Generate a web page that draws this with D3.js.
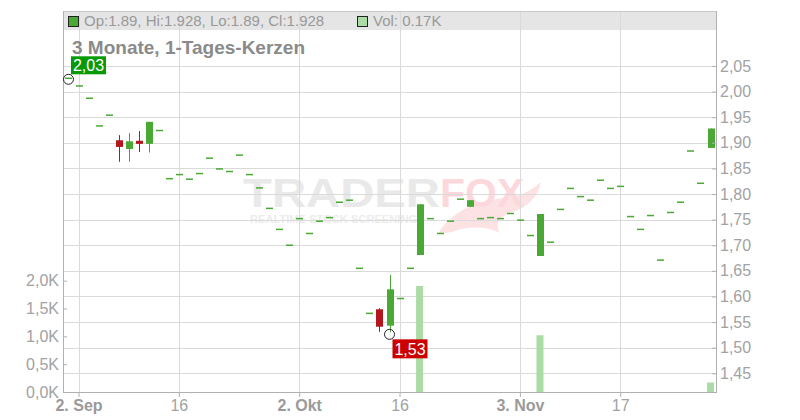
<!DOCTYPE html>
<html><head><meta charset="utf-8">
<script src="https://cdn.jsdelivr.net/npm/d3@7"></script>
<style>
html,body{margin:0;padding:0;background:#fff;}
svg{display:block;font-family:"Liberation Sans",Arial,sans-serif;}
</style></head>
<body><svg id="c" width="800" height="420"></svg>
<script>
const dates = ["2025-09-01","2025-09-02","2025-09-03","2025-09-04","2025-09-05",
"2025-09-08","2025-09-09","2025-09-10","2025-09-11","2025-09-12",
"2025-09-15","2025-09-16","2025-09-17","2025-09-18","2025-09-19",
"2025-09-22","2025-09-23","2025-09-24","2025-09-25","2025-09-26",
"2025-09-29","2025-09-30","2025-10-01","2025-10-02","2025-10-03",
"2025-10-06","2025-10-07","2025-10-08","2025-10-09","2025-10-10",
"2025-10-13","2025-10-14","2025-10-15","2025-10-16","2025-10-17",
"2025-10-20","2025-10-21","2025-10-22","2025-10-23","2025-10-24",
"2025-10-27","2025-10-28","2025-10-29","2025-10-30","2025-10-31",
"2025-11-03","2025-11-04","2025-11-05","2025-11-06","2025-11-07",
"2025-11-10","2025-11-11","2025-11-12","2025-11-13","2025-11-14",
"2025-11-17","2025-11-18","2025-11-19","2025-11-20","2025-11-21",
"2025-11-24","2025-11-25","2025-11-26","2025-11-27","2025-11-28"];

const open  = [2.026,2.011,1.987,1.933,1.954, 1.905,1.888,1.904,1.898,1.924,
1.830,1.838,1.829,1.840,1.870, 1.849,1.844,1.876,1.838,1.812,
1.772,1.731,1.700,1.752,1.723, 1.747,1.754,1.784,1.788,1.655,
1.567,1.575,1.543,1.596,1.655, 1.681,1.752,1.723,1.747,1.790,
1.775,1.752,1.754,1.752,1.762, 1.749,1.719,1.679,1.706,1.770,
1.811,1.795,1.788,1.827,1.811, 1.815,1.756,1.731,1.758,1.671,
1.764,1.784,1.884,1.821,1.890];
const high  = [2.026,2.011,1.987,1.933,1.954, 1.915,1.919,1.923,1.941,1.924,
1.830,1.838,1.829,1.840,1.870, 1.849,1.844,1.876,1.838,1.812,
1.772,1.731,1.700,1.752,1.723, 1.747,1.754,1.784,1.788,1.655,
1.567,1.577,1.642,1.596,1.655, 1.780,1.752,1.723,1.747,1.790,
1.788,1.752,1.754,1.752,1.762, 1.749,1.719,1.761,1.706,1.770,
1.811,1.795,1.788,1.827,1.811, 1.815,1.756,1.731,1.758,1.671,
1.764,1.784,1.884,1.821,1.928];
const low   = [2.026,2.011,1.987,1.933,1.954, 1.863,1.863,1.882,1.881,1.924,
1.830,1.838,1.829,1.840,1.870, 1.849,1.844,1.876,1.838,1.812,
1.772,1.731,1.700,1.752,1.723, 1.747,1.754,1.784,1.788,1.655,
1.567,1.531,1.530,1.596,1.655, 1.681,1.752,1.723,1.747,1.790,
1.775,1.752,1.754,1.752,1.762, 1.749,1.719,1.679,1.706,1.770,
1.811,1.795,1.788,1.827,1.811, 1.815,1.756,1.731,1.758,1.671,
1.764,1.784,1.884,1.821,1.890];
const close = [2.026,2.011,1.987,1.933,1.954, 1.892,1.903,1.898,1.941,1.924,
1.830,1.838,1.829,1.840,1.870, 1.849,1.844,1.876,1.838,1.812,
1.772,1.731,1.700,1.752,1.723, 1.747,1.754,1.784,1.788,1.655,
1.567,1.541,1.614,1.596,1.655, 1.780,1.752,1.723,1.747,1.790,
1.788,1.752,1.754,1.752,1.762, 1.749,1.719,1.761,1.706,1.770,
1.811,1.795,1.788,1.827,1.811, 1.815,1.756,1.731,1.758,1.671,
1.764,1.784,1.884,1.821,1.928];
// volume in thousands
const volume = [0,0,0,0,0, 0,0,0,0,0, 0,0,0,0,0, 0,0,0,0,0,
0,0,0,0,0, 0,0,0,0,0, 0,0,0,0,0, 1.905,0,0,0,0,
0,0,0,0,0, 0,0,1.02,0,0, 0,0,0,0,0, 0,0,0,0,0, 0,0,0,0,0.17];

const priceTicks = [1.45,1.50,1.55,1.60,1.65,1.70,1.75,1.80,1.85,1.90,1.95,2.00,2.05];
const volTicks = [0,0.5,1.0,1.5,2.0];
const xTickDates = ["2025-09-02","2025-09-16","2025-10-02","2025-10-16","2025-11-03","2025-11-17"];
const xTickLabels = ["2. Sep","16","2. Okt","16","3. Nov","17"];
const xTickBold = [true,false,true,false,true,false];
const title = "3 Monate, 1-Tages-Kerzen";

const L = 63, R = 716, T = 11, B = 392;
const GREEN = "#4aa934", RED = "#b3161c", VOLC = "#acdca6", GRID = "#dadada", AX = "#b0b0b0", TXT = "#a2a2a2";

const svg = d3.select("#c");
const n = dates.length;
const x = d3.scaleLinear().domain([-0.547, n - 1 + 0.547]).range([L, R]);
const y = d3.scaleLinear().domain([1.45, 2.05]).range([373.3, 66]);
const yv = d3.scaleLinear().domain([0, 2]).range([B, 280.7]);
const fmtP = v => d3.format(".2f")(v).replace(".", ",");
const fmtV = v => d3.format(".1f")(v).replace(".", ",") + "K";

// header band
svg.append("rect").attr("x", L).attr("y", T).attr("width", R - L).attr("height", 19).attr("fill", "#e5e5e5");

// watermark
const wm = svg.append("g");
wm.append("path")
  .attr("d", "M438,234 C450,212 478,200 505,198 C520,197 532,190 541,182 C538,198 526,208 512,212 C500,216 494,224 500,233 C486,226 468,226 452,232 Z")
  .attr("fill", "#fde2e4");
wm.append("text").attr("x", 243).attr("y", 207).attr("font-size", 40).attr("font-weight", "bold")
  .attr("textLength", 197).attr("lengthAdjust", "spacingAndGlyphs").attr("fill", "#e9e9e9").text("TRADER");
wm.append("text").attr("x", 440).attr("y", 207).attr("font-size", 40).attr("font-weight", "bold")
  .attr("textLength", 84).attr("lengthAdjust", "spacingAndGlyphs").attr("fill", "#fcd8dc").text("FOX");
wm.append("text").attr("x", 250).attr("y", 223).attr("font-size", 11).attr("font-weight", "bold")
  .attr("textLength", 167).attr("lengthAdjust", "spacing").attr("fill", "#ececec").text("REALTIME STOCK SCREENING");

// gridlines
const xTickIdx = xTickDates.map(d => dates.indexOf(d));
svg.append("g").selectAll("line").data(priceTicks).join("line")
  .attr("x1", L).attr("x2", R).attr("y1", d => Math.round(y(d)) + 0.5).attr("y2", d => Math.round(y(d)) + 0.5)
  .attr("stroke", GRID);
svg.append("g").selectAll("line").data(xTickIdx).join("line")
  .attr("x1", d => Math.round(x(d)) + 0.5).attr("x2", d => Math.round(x(d)) + 0.5).attr("y1", T).attr("y2", B)
  .attr("stroke", GRID);
svg.append("line").attr("x1", L).attr("x2", R).attr("y1", T + 0.5).attr("y2", T + 0.5).attr("stroke", "#c8c8c8");

// volume bars
const idx = d3.range(n);
svg.append("g").selectAll("rect").data(idx.filter(i => volume[i] > 0)).join("rect")
  .attr("x", i => x(i) - 3.5).attr("width", 7)
  .attr("y", i => yv(volume[i])).attr("height", i => yv(0) - yv(volume[i]))
  .attr("fill", VOLC);

// candles
const cg = svg.append("g");
const col = i => close[i] >= open[i] ? GREEN : RED;
cg.selectAll("line").data(idx.filter(i => high[i] !== low[i])).join("line")
  .attr("x1", i => Math.round(x(i)) + 0.5).attr("x2", i => Math.round(x(i)) + 0.5)
  .attr("y1", i => y(high[i])).attr("y2", i => y(low[i]))
  .attr("stroke", col).attr("stroke-width", 1);
cg.selectAll("rect").data(idx).join("rect")
  .attr("x", i => Math.round(x(i)) - 3).attr("width", 7)
  .attr("y", i => Math.min(y(open[i]), y(close[i])) - (open[i] === close[i] ? 0.75 : 0))
  .attr("height", i => Math.max(Math.abs(y(open[i]) - y(close[i])), 1.5))
  .attr("fill", col);

// axes
const axR = svg.append("g").attr("transform", `translate(${R},0)`)
  .call(d3.axisRight(y).tickValues(priceTicks).tickFormat(fmtP).tickSize(-4).tickPadding(4));
const axLv = svg.append("g").attr("transform", `translate(${L},0)`)
  .call(d3.axisLeft(yv).tickValues(volTicks).tickFormat(fmtV).tickSize(-4).tickPadding(4));
const axB = svg.append("g").attr("transform", `translate(0,${B})`)
  .call(d3.axisBottom(x).tickValues(xTickIdx).tickFormat((d, i) => xTickLabels[i]).tickSize(5).tickPadding(3));
[axR, axLv, axB].forEach(a => {
  a.select(".domain").remove();
  a.selectAll(".tick line").attr("stroke", AX);
  a.selectAll("text").attr("fill", TXT).attr("font-size", 16).attr("font-family", '"Liberation Sans",Arial,sans-serif');
});
axB.selectAll(".tick text").attr("font-weight", (d, i) => xTickBold[i] ? "bold" : "normal")
  .attr("fill", (d, i) => xTickBold[i] ? "#9a9a9a" : TXT);
svg.append("line").attr("x1", L + 0.5).attr("x2", L + 0.5).attr("y1", T).attr("y2", B).attr("stroke", AX);
svg.append("line").attr("x1", R + 0.5).attr("x2", R + 0.5).attr("y1", T).attr("y2", B).attr("stroke", AX);
svg.append("line").attr("x1", L).attr("x2", R + 1).attr("y1", B + 0.5).attr("y2", B + 0.5).attr("stroke", AX);

// header legend
const last = n - 1;
svg.append("rect").attr("x", 68.5).attr("y", 16.5).attr("width", 10).attr("height", 10)
  .attr("fill", GREEN).attr("stroke", "#222");
svg.append("text").attr("x", 84).attr("y", 26).attr("font-size", 15).attr("fill", "#999")
  .text(`Op:${open[last]}, Hi:${high[last]}, Lo:${low[last]}, Cl:${close[last]}`);
svg.append("rect").attr("x", 357.5).attr("y", 16.5).attr("width", 10).attr("height", 10)
  .attr("fill", VOLC).attr("stroke", "#222");
svg.append("text").attr("x", 373).attr("y", 26).attr("font-size", 15).attr("fill", "#999")
  .text(`Vol: ${volume[last]}K`);

// title
svg.append("text").attr("x", 72).attr("y", 54).attr("font-size", 19).attr("font-weight", "bold")
  .attr("fill", "#8a8a8a").text(title);

// high / low markers
const iHi = d3.maxIndex(high), iLo = d3.minIndex(low);
svg.append("circle").attr("cx", x(iHi)).attr("cy", y(high[iHi]) + 1).attr("r", 5)
  .attr("fill", "none").attr("stroke", "#222");
svg.append("rect").attr("x", x(iHi) + 2.5).attr("y", y(high[iHi]) - 22).attr("width", 35).attr("height", 18).attr("fill", "#079a07");
svg.append("text").attr("x", x(iHi) + 20).attr("y", y(high[iHi]) - 7.5).attr("text-anchor", "middle")
  .attr("font-size", 16).attr("fill", "#fff").text(fmtP(high[iHi]));
svg.append("circle").attr("cx", x(iLo)).attr("cy", y(low[iLo]) + 2).attr("r", 5)
  .attr("fill", "none").attr("stroke", "#222");
svg.append("rect").attr("x", x(iLo) + 3).attr("y", y(low[iLo]) + 7).attr("width", 35).attr("height", 19).attr("fill", "#cc0000");
svg.append("text").attr("x", x(iLo) + 20.5).attr("y", y(low[iLo]) + 22.5).attr("text-anchor", "middle")
  .attr("font-size", 16).attr("fill", "#fff").text(fmtP(low[iLo]));
</script></body></html>
